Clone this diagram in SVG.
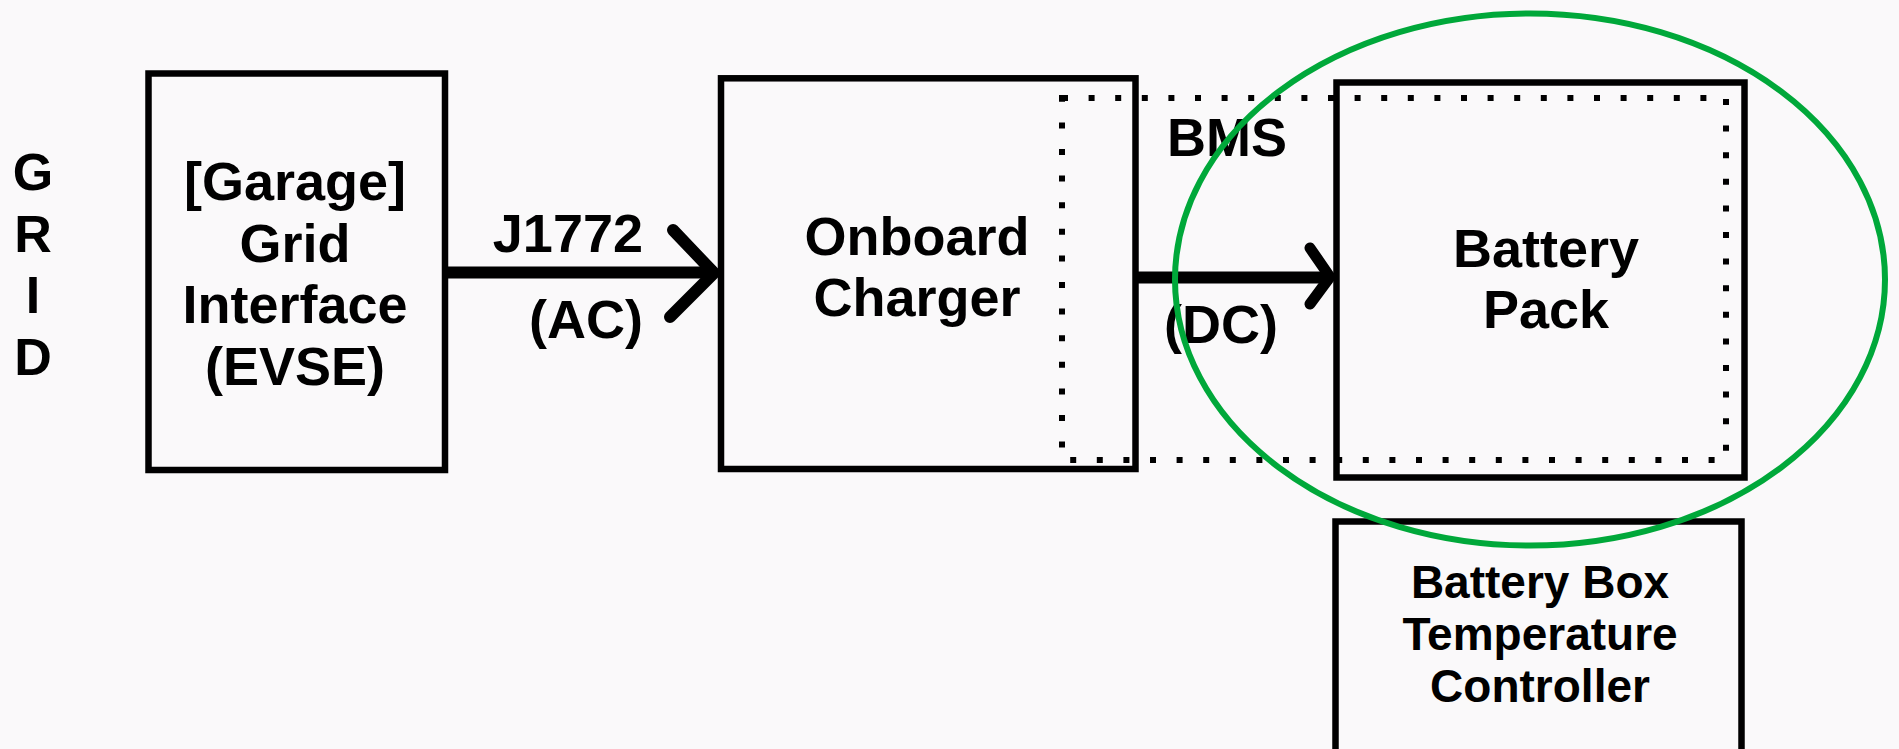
<svg xmlns="http://www.w3.org/2000/svg" width="1899" height="749" viewBox="0 0 1899 749">
<style>
.box{fill:none;stroke:#000;stroke-width:6.5}
.t{font-family:"Liberation Sans",Arial,sans-serif;font-weight:bold;fill:#000;font-size:54px}
.c{text-anchor:middle}
.wire{fill:none;stroke:#000;stroke-width:12}
.head{fill:none;stroke:#000;stroke-width:12;stroke-linecap:round;stroke-linejoin:round}
</style>
<rect width="1899" height="749" fill="#faf9fa"/>
<g id="grid-label">
<text class="t c" x="33" y="190" style="font-size:52px">G</text>
<text class="t c" x="33" y="252" style="font-size:52px">R</text>
<text class="t c" x="33" y="313" style="font-size:52px">I</text>
<text class="t c" x="33" y="375" style="font-size:52px">D</text>
</g>
<g id="evse">
<rect class="box" x="148.5" y="73.5" width="296.5" height="396.5"/>
<text class="t c" x="295" y="200">[Garage]</text>
<text class="t c" x="295" y="262">Grid</text>
<text class="t c" x="295" y="323">Interface</text>
<text class="t c" x="295" y="385">(EVSE)</text>
</g>
<g id="onboard-charger">
<rect class="box" x="721" y="78.3" width="414.5" height="390.7"/>
<text class="t c" x="917" y="255">Onboard</text>
<text class="t c" x="917" y="316">Charger</text>
</g>
<g id="bms">
<rect x="1062" y="98" width="664" height="362" fill="none" stroke="#000" stroke-width="6" stroke-dasharray="6 20.6"/>
<text class="t" x="1167" y="156">BMS</text>
</g>
<g id="battery-pack">
<rect class="box" x="1336.5" y="82.5" width="408" height="395"/>
<text class="t c" x="1546" y="267">Battery</text>
<text class="t c" x="1546" y="328">Pack</text>
</g>
<g id="temp-controller">
<rect class="box" x="1335.5" y="521.5" width="406" height="250"/>
<text class="t c" x="1540" y="598" style="font-size:46px">Battery Box</text>
<text class="t c" x="1540" y="650" style="font-size:46px">Temperature</text>
<text class="t c" x="1540" y="702" style="font-size:46px">Controller</text>
</g>
<g id="connectors">
<line class="wire" x1="447" y1="272.5" x2="716" y2="272.5"/>
<polyline class="head" points="673,230 714,273 670,317"/>
<text class="t" x="643" y="252" text-anchor="end">J1772</text>
<text class="t" x="643" y="338" text-anchor="end">(AC)</text>
<line class="wire" x1="1138" y1="277.5" x2="1332" y2="277.5"/>
<polyline class="head" points="1310,248 1330,277 1310,304" style="stroke-width:11"/>
<text class="t" x="1164" y="343">(DC)</text>
</g>
<g id="highlight">
<ellipse cx="1530" cy="279.5" rx="355" ry="266" fill="none" stroke="#00a83a" stroke-width="6"/>
</g>
</svg>
